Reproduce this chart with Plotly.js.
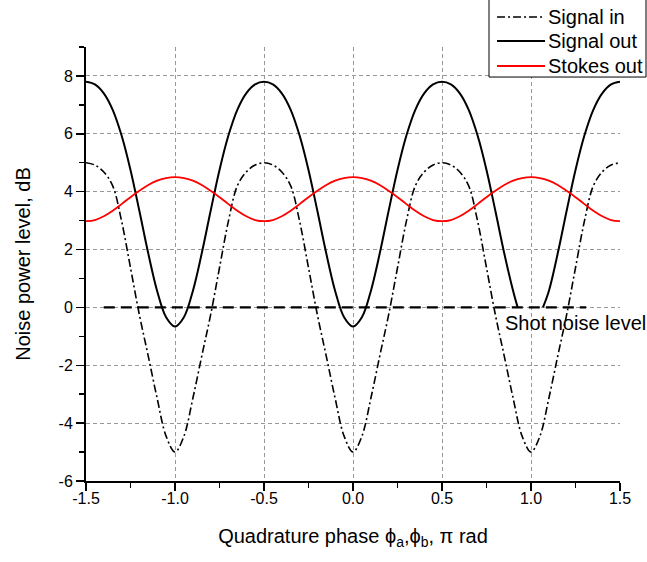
<!DOCTYPE html>
<html>
<head>
<meta charset="utf-8">
<script src="https://cdn.plot.ly/plotly-3.0.1.min.js"></script>
<style>html,body{margin:0;padding:0;background:#fff;}#chart{width:647px;height:562px;}</style>
</head>
<body>
<div id="chart"></div>
<script>
// ---- data ----
var phase = [-1.5,-1.45,-1.4,-1.35,-1.3,-1.25,-1.2,-1.15,-1.1,-1.05,-1.0,
  -0.95,-0.9,-0.85,-0.8,-0.75,-0.7,-0.65,-0.6,-0.55,-0.5,
  -0.45,-0.4,-0.35,-0.3,-0.25,-0.2,-0.15,-0.1,-0.05,0,
  0.05,0.1,0.15,0.2,0.25,0.3,0.35,0.4,0.45,0.5,
  0.55,0.6,0.65,0.7,0.75,0.8,0.85,0.9,0.95,1.0,
  1.05,1.1,1.15,1.2,1.25,1.3,1.35,1.4,1.45,1.5];

var signalIn = [5.0,4.92,4.68,4.2,2.98,1.37,-0.26,-1.69,-3.15,-4.45,-5.0,
  -4.45,-3.15,-1.69,-0.26,1.37,2.98,4.2,4.68,4.92,5.0,
  4.92,4.68,4.2,2.98,1.37,-0.26,-1.69,-3.15,-4.45,-5.0,
  -4.45,-3.15,-1.69,-0.26,1.37,2.98,4.2,4.68,4.92,5.0,
  4.92,4.68,4.2,2.98,1.37,-0.26,-1.69,-3.15,-4.45,-5.0,
  -4.45,-3.15,-1.69,-0.26,1.37,2.98,4.2,4.68,4.92,5.0];

var signalOutPhase = [-1.5,-1.45,-1.4,-1.35,-1.3,-1.25,-1.2,-1.15,-1.1,-1.05,-1.0,
  -0.95,-0.9,-0.85,-0.8,-0.75,-0.7,-0.65,-0.6,-0.55,-0.5,
  -0.45,-0.4,-0.35,-0.3,-0.25,-0.2,-0.15,-0.1,-0.05,0,
  0.05,0.1,0.15,0.2,0.25,0.3,0.35,0.4,0.45,0.5,
  0.55,0.6,0.65,0.7,0.75,0.8,0.85,0.9,0.925,1.0,
  1.067,1.1,1.15,1.2,1.25,1.3,1.35,1.4,1.45,1.5];
var signalOut = [7.8,7.71,7.4,6.83,5.94,4.75,3.33,1.86,0.56,-0.34,-0.66,
  -0.34,0.56,1.86,3.33,4.75,5.94,6.83,7.4,7.71,7.8,
  7.71,7.4,6.83,5.94,4.75,3.33,1.86,0.56,-0.34,-0.66,
  -0.34,0.56,1.86,3.33,4.75,5.94,6.83,7.4,7.71,7.8,
  7.71,7.4,6.83,5.94,4.75,3.33,1.86,0.56,0,null,
  0,0.56,1.86,3.33,4.75,5.94,6.83,7.4,7.71,7.8];

var stokesOut = [2.98,3.02,3.15,3.34,3.57,3.81,4.03,4.23,4.38,4.47,4.5,
  4.47,4.38,4.23,4.03,3.81,3.57,3.34,3.15,3.02,2.98,
  3.02,3.15,3.34,3.57,3.81,4.03,4.23,4.38,4.47,4.5,
  4.47,4.38,4.23,4.03,3.81,3.57,3.34,3.15,3.02,2.98,
  3.02,3.15,3.34,3.57,3.81,4.03,4.23,4.38,4.47,4.5,
  4.47,4.38,4.23,4.03,3.81,3.57,3.34,3.15,3.02,2.98];

var shotNoisePhase = [-1.4, 1.31];
var shotNoiseLevel = [0, 0];

var seriesNames = ['Signal in', 'Signal out', 'Stokes out'];
var shotNoiseLabel = 'Shot noise level';

var xTickVals = [-1.5,-1.0,-0.5,0,0.5,1.0,1.5];
var xTickText = ['-1.5','-1.0','-0.5','0.0','0.5','1.0','1.5'];
var xGridVals = [-1.0,-0.5,0,0.5,1.0];
var yTickVals = [-6,-4,-2,0,2,4,6,8];
var yTickText = ['-6','-4','-2','0','2','4','6','8'];

var xTitle = 'Quadrature phase \u03d5<sub>a</sub>,\u03d5<sub>b</sub>, \u03c0 rad';
var yTitle = 'Noise power level, dB';

// ---- chart ----
var FONT = 'Liberation Sans, Arial, Helvetica, sans-serif';
var STYLES = [
  {color: '#000', width: 1.6, dash: '8px,3px,2px,3px'},
  {color: '#000', width: 2, dash: 'solid'},
  {color: '#ff0000', width: 1.8, dash: 'solid'}
];

var traces = [
  {x: phase, y: signalIn, name: seriesNames[0], mode: 'lines', showlegend: false,
   line: Object.assign({shape: 'spline', smoothing: 1}, STYLES[0])},
  {x: signalOutPhase, y: signalOut, name: seriesNames[1], mode: 'lines', connectgaps: false, showlegend: false,
   line: Object.assign({shape: 'spline', smoothing: 1}, STYLES[1])},
  {x: phase, y: stokesOut, name: seriesNames[2], mode: 'lines', showlegend: false,
   line: Object.assign({shape: 'spline', smoothing: 1}, STYLES[2])},
  {x: shotNoisePhase, y: shotNoiseLevel, name: shotNoiseLabel, mode: 'lines', showlegend: false,
   xaxis: 'x2', line: {color: '#000', width: 2.2, dash: '11px,6px'}}
];

var tickStyle = {ticks: 'outside', tickwidth: 1.5, tickcolor: '#000'};

var layout = {
  width: 647, height: 562,
  margin: {l: 86, r: 27, t: 47, b: 81, autoexpand: false},
  paper_bgcolor: '#fff', plot_bgcolor: '#fff',
  font: {family: FONT, color: '#000'},
  showlegend: false,
  xaxis: Object.assign({}, tickStyle, {
    range: [-1.5, 1.5], tickmode: 'array', tickvals: xTickVals, ticktext: xTickText,
    ticklen: 8, showline: true, linecolor: '#000', linewidth: 2,
    showgrid: false, zeroline: false, ticklabelstandoff: -6,
    tickfont: {family: FONT, size: 16, color: '#000'},
    minor: {tickmode: 'linear', tick0: -1.5, dtick: 0.25, ticks: 'outside', ticklen: 5, tickwidth: 1.5, tickcolor: '#000', showgrid: false},
    title: {text: xTitle, font: {family: FONT, size: 20, color: '#000'}, standoff: 23}
  }),
  xaxis2: {
    overlaying: 'x', anchor: 'y', range: [-1.5, 1.5], tickmode: 'array', tickvals: xGridVals,
    showticklabels: false, ticks: '', showline: false, zeroline: false,
    showgrid: true, gridcolor: '#999', gridwidth: 1, griddash: '4px,3px'
  },
  yaxis: Object.assign({}, tickStyle, {
    range: [-6, 9], tickmode: 'array', tickvals: yTickVals, ticktext: yTickText,
    ticklen: 8, showline: true, linecolor: '#000', linewidth: 2,
    showgrid: true, gridcolor: '#999', gridwidth: 1, griddash: '4px,3px', zeroline: false,
    tickfont: {family: FONT, size: 16, color: '#000'},
    minor: {tickmode: 'linear', tick0: -6, dtick: 1, ticks: 'outside', ticklen: 5, tickwidth: 1.5, tickcolor: '#000', showgrid: false},
    title: {text: yTitle, font: {family: FONT, size: 20, color: '#000'}, standoff: 23}
  }),
  shapes: [],
  annotations: [{
    x: 0.84, y: -0.54, xref: 'x', yref: 'y', xanchor: 'left', yanchor: 'middle',
    text: shotNoiseLabel, showarrow: false,
    font: {family: FONT, size: 20, color: '#000'}
  }]
};

// hand-drawn legend box (paper coordinates)
var legBox = {x0: 0.7547, x1: 1.0487, y0: 0.9308, y1: 1.111};
var legRows = [1.0692, 1.0138, 0.9562];
layout.shapes.push({type: 'rect', xref: 'paper', yref: 'paper', layer: 'above',
  x0: legBox.x0, x1: legBox.x1, y0: legBox.y0, y1: legBox.y1,
  fillcolor: '#fff', line: {color: '#000', width: 1}});
for (var i = 0; i < seriesNames.length; i++) {
  layout.shapes.push({type: 'line', xref: 'paper', yref: 'paper', layer: 'above',
    x0: 0.7697, x1: 0.8596, y0: legRows[i], y1: legRows[i],
    line: {color: STYLES[i].color, width: STYLES[i].width, dash: STYLES[i].dash}});
  layout.annotations.push({xref: 'paper', yref: 'paper', x: 0.862, y: legRows[i],
    xanchor: 'left', yanchor: 'middle', text: seriesNames[i], showarrow: false,
    font: {family: FONT, size: 20, color: '#000'}});
}

Plotly.newPlot('chart', traces, layout, {displayModeBar: false, staticPlot: true});
</script>
</body>
</html>
